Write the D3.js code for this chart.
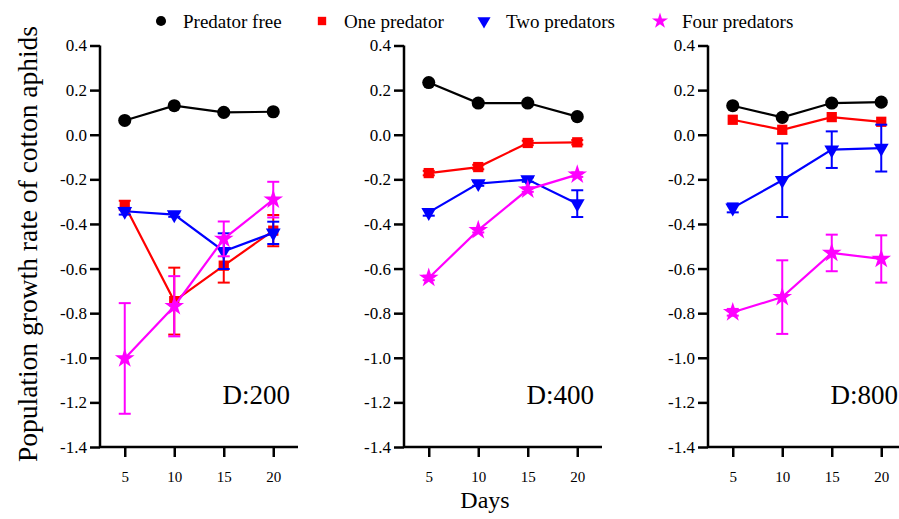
<!DOCTYPE html>
<html>
<head>
<meta charset="utf-8">
<script src="https://cdn.jsdelivr.net/npm/d3@7"></script>
<style>
  body { margin: 0; background: #fff; }
  text { font-family: "Liberation Serif", "Times New Roman", serif; fill: #000; }
</style>
</head>
<body>
<div id="chart"></div>
<script>
// data
var days = [5, 10, 15, 20];
var seriesNames = ["Predator free", "One predator", "Two predators", "Four predators"];
var seriesColors = ["#000000", "#ff0000", "#0000ff", "#ff00ff"];
var panelLabels = ["D:200", "D:400", "D:800"];
var yTicks = [0.4, 0.2, 0.0, -0.2, -0.4, -0.6, -0.8, -1.0, -1.2, -1.4];

// D:200
var d200Free = [0.064, 0.130, 0.100, 0.103];
var d200One = [-0.316, -0.746, -0.587, -0.430];
var d200Two = [-0.343, -0.358, -0.522, -0.440];
var d200Four = [-1.003, -0.769, -0.467, -0.291];
var d200FreeErr = [0, 0, 0, 0];
var d200OneErr = [0.020, 0.150, 0.076, 0.070];
var d200TwoErr = [0.015, 0.010, 0.080, 0.050];
var d200FourErr = [0.248, 0.135, 0.078, 0.080];

// D:400
var d400Free = [0.234, 0.142, 0.142, 0.081];
var d400One = [-0.172, -0.145, -0.037, -0.034];
var d400Two = [-0.348, -0.219, -0.201, -0.309];
var d400Four = [-0.642, -0.428, -0.246, -0.179];
var d400FreeErr = [0, 0, 0, 0];
var d400OneErr = [0.010, 0.010, 0.010, 0.010];
var d400TwoErr = [0.015, 0.010, 0.010, 0.060];
var d400FourErr = [0.010, 0.010, 0.010, 0.010];

// D:800
var d800Free = [0.130, 0.078, 0.142, 0.146];
var d800One = [0.067, 0.022, 0.079, 0.058];
var d800Two = [-0.328, -0.204, -0.067, -0.060];
var d800Four = [-0.796, -0.728, -0.530, -0.557];
var d800FreeErr = [0, 0, 0, 0];
var d800OneErr = [0, 0, 0, 0];
var d800TwoErr = [0.020, 0.165, 0.082, 0.105];
var d800FourErr = [0.015, 0.165, 0.082, 0.106];

var panels = [
    { values: [d200Free, d200One, d200Two, d200Four], errs: [d200FreeErr, d200OneErr, d200TwoErr, d200FourErr] },
    { values: [d400Free, d400One, d400Two, d400Four], errs: [d400FreeErr, d400OneErr, d400TwoErr, d400FourErr] },
    { values: [d800Free, d800One, d800Two, d800Four], errs: [d800FreeErr, d800OneErr, d800TwoErr, d800FourErr] }
];

var W = 899, H = 519;
var panelLeft = 100, panelStep = 304, panelTop = 45.5,
    panelW = 198, panelH = 401.5;
var serif = '"Liberation Serif", "Times New Roman", serif';

var svg = d3.select("#chart")
    .append("svg")
    .attr("width", W)
    .attr("height", H);

var x = d3.scaleLinear().domain([2.5, 22.5]).range([0, panelW]);
var y = d3.scaleLinear().domain([-1.4, 0.4]).range([panelH, 0]);

// marker shapes
var shapes = [
    d3.symbol().type(d3.symbolCircle).size(135),
    d3.symbol().type(d3.symbolSquare).size(105),
    d3.symbol().type(d3.symbolTriangle).size(95),
    d3.symbol().type(d3.symbolStar).size(120)
];
var rotations = [0, 0, 180, 0];

var line = d3.line()
    .x(function (d, i) { return x(days[i]); })
    .y(function (d) { return y(d); });

panels.forEach(function (p, pi) {
    var g = svg.append("g")
        .attr("transform", "translate(" + (panelLeft + pi * panelStep) + "," + panelTop + ")");

    // Y axis
    var ya = g.append("g")
        .attr("font-family", serif)
        .call(d3.axisLeft(y).tickValues(yTicks).tickSize(10).tickPadding(3));
    ya.attr("font-family", serif);
    ya.select(".domain").attr("stroke-width", 2.5).attr("d", "M0,0V" + panelH);
    ya.selectAll(".tick line").attr("stroke-width", 2.5);
    ya.selectAll(".tick text")
        .style("font-family", serif)
        .style("font-size", "17px")
        .text(function (d) { return d3.format(".1f")(d).replace("−", "-"); });

    // X axis
    var xa = g.append("g")
        .attr("transform", "translate(0," + panelH + ")")
        .call(d3.axisBottom(x).tickValues(days).tickSize(10).tickPadding(14));
    xa.attr("font-family", serif);
    xa.select(".domain").attr("stroke-width", 2.5).attr("d", "M0,0H" + panelW);
    xa.selectAll(".tick line").attr("stroke-width", 2.5);
    xa.selectAll(".tick text")
        .style("font-family", serif)
        .style("font-size", "15px");

    // series
    p.values.forEach(function (vals, si) {
        var col = seriesColors[si];
        var errs = p.errs[si];
        var sg = g.append("g");

        // error bars
        vals.forEach(function (v, i) {
            if (!errs[i]) return;
            var cx = x(days[i]);
            var y0 = y(v - errs[i]), y1 = y(v + errs[i]);
            sg.append("line").attr("x1", cx).attr("x2", cx).attr("y1", y0).attr("y2", y1)
                .attr("stroke", col).attr("stroke-width", 2);
            [y0, y1].forEach(function (yy) {
                sg.append("line").attr("x1", cx - 6).attr("x2", cx + 6).attr("y1", yy).attr("y2", yy)
                    .attr("stroke", col).attr("stroke-width", 2);
            });
        });

        sg.append("path")
            .datum(vals)
            .attr("d", line)
            .attr("fill", "none")
            .attr("stroke", col)
            .attr("stroke-width", 2.2);

        sg.selectAll(".pt")
            .data(vals)
            .enter()
            .append("path")
            .attr("class", "pt")
            .attr("d", shapes[si])
            .attr("transform", function (d, i) {
                return "translate(" + x(days[i]) + "," + y(d) + ") rotate(" + rotations[si] + ")";
            })
            .attr("fill", col);
    });

    g.append("text")
        .attr("x", 190)
        .attr("y", 358)
        .attr("text-anchor", "end")
        .style("font-size", "27px")
        .text(panelLabels[pi]);
});

// y axis title
svg.append("text")
    .attr("transform", "translate(37,244) rotate(-90)")
    .attr("text-anchor", "middle")
    .style("font-size", "27.5px")
    .text("Population growth rate of cotton aphids");

// x axis title
svg.append("text")
    .attr("x", 485)
    .attr("y", 508)
    .attr("text-anchor", "middle")
    .style("font-size", "24px")
    .text("Days");

// legend
var legendX = [161, 322, 484, 660];
var legendSizes = [80, 70, 75, 80];
var legend = svg.append("g");
seriesNames.forEach(function (name, i) {
    legend.append("path")
        .attr("d", d3.symbol().type(shapes[i].type()).size(legendSizes[i]))
        .attr("transform", "translate(" + legendX[i] + ",21) rotate(" + rotations[i] + ")")
        .attr("fill", seriesColors[i]);
    legend.append("text")
        .attr("x", legendX[i] + 22)
        .attr("y", 28)
        .style("font-size", "19px")
        .text(name);
});
</script>
</body>
</html>
